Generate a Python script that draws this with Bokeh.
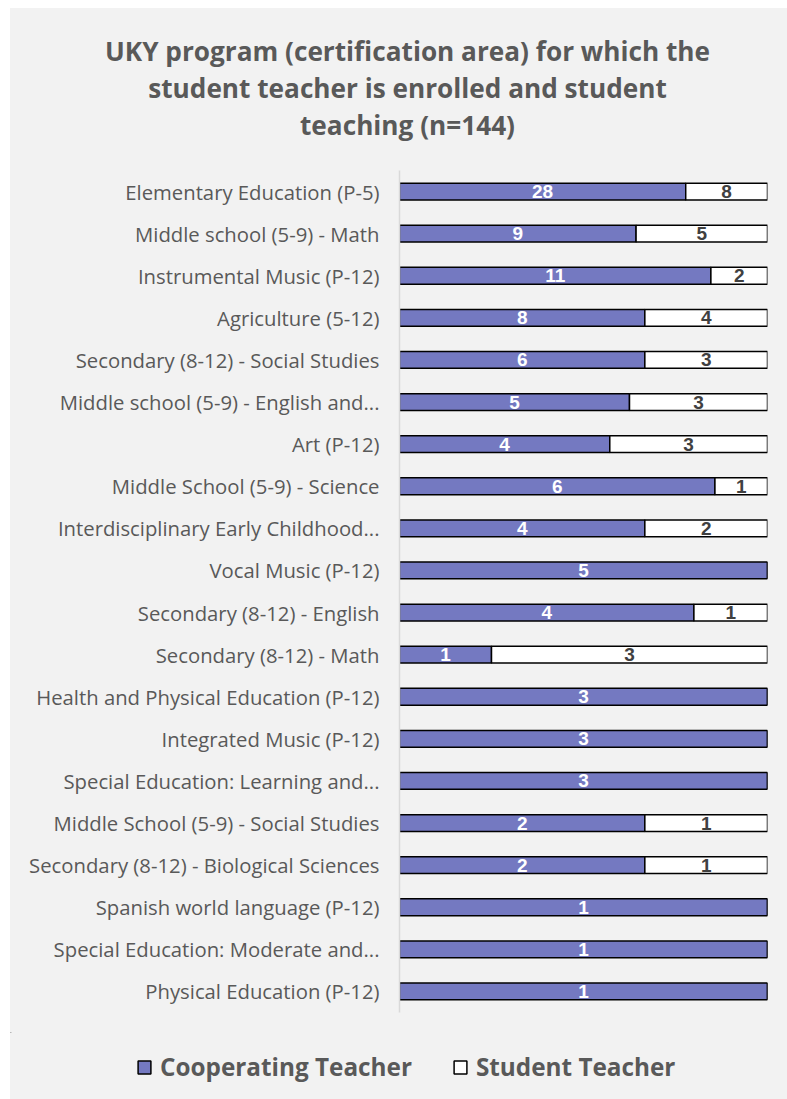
from bokeh.plotting import figure
from bokeh.models import ColumnDataSource, FactorRange, Range1d, Legend, LegendItem
from bokeh.layouts import column, row
from bokeh.core.properties import value
from bokeh.embed import file_html
from bokeh.resources import INLINE

categories = [
    "Elementary Education (P-5)",
    "Middle school (5-9) - Math",
    "Instrumental Music (P-12)",
    "Agriculture (5-12)",
    "Secondary (8-12) - Social Studies",
    "Middle school (5-9) - English and...",
    "Art (P-12)",
    "Middle School (5-9) - Science",
    "Interdisciplinary Early Childhood...",
    "Vocal Music (P-12)",
    "Secondary (8-12) - English",
    "Secondary (8-12) - Math",
    "Health and Physical Education (P-12)",
    "Integrated Music (P-12)",
    "Special Education: Learning and...",
    "Middle School (5-9) - Social Studies",
    "Secondary (8-12) - Biological Sciences",
    "Spanish world language (P-12)",
    "Special Education: Moderate and...",
    "Physical Education (P-12)",
]
cooperating = [28, 9, 11, 8, 6, 5, 4, 6, 4, 5, 4, 1, 3, 3, 3, 2, 2, 1, 1, 1]
student = [8, 5, 2, 4, 3, 3, 3, 1, 2, 0, 1, 3, 0, 0, 0, 1, 1, 0, 0, 0]
series_names = ["Cooperating Teacher", "Student Teacher"]
title_lines = [
    "UKY program (certification area) for which the",
    "student teacher is enrolled and student",
    "teaching (n=144)",
]

COOP_COLOR = "#7479c1"
STU_COLOR = "#ffffff"
TEXT_GRAY = "#595959"
CARD = "#f2f2f2"
W = 777
BG = {"background-color": CARD}

# ---------- title figure ----------
tf = figure(width=W, height=162, x_range=Range1d(0, W), y_range=Range1d(0, 162),
            output_backend="svg", toolbar_location=None,
            min_border=0, background_fill_color=CARD, border_fill_color=CARD,
            outline_line_color=None)
tf.axis.visible = False
tf.grid.visible = False
tf.text(x=[397] * 3, y=[120, 83, 46], text=title_lines,
        text_align="center", text_baseline="middle",
        text_font=value("Open Sans"), text_font_style="bold",
        text_font_size="26.2px", text_color=TEXT_GRAY)

# ---------- main figure ----------
tot = [c + s for c, s in zip(cooperating, student)]
coop_frac = [c / t for c, t in zip(cooperating, tot)]
stu_frac = [s / t for s, t in zip(student, tot)]
src = ColumnDataSource(dict(cat=categories, coop=coop_frac, stu=stu_frac))

p = figure(
    width=W, height=862,
    y_range=FactorRange(*list(reversed(categories))),
    x_range=Range1d(0, 1),
    output_backend="svg", toolbar_location=None,
    min_border_left=389, min_border_right=20,
    min_border_top=0, min_border_bottom=20,
    background_fill_color=CARD, border_fill_color=CARD,
    outline_line_color=None,
)
p.y_range.range_padding = 0

p.hbar_stack(
    ["coop", "stu"], y="cat", height=0.4, source=src,
    fill_color=[COOP_COLOR, STU_COLOR], line_color="black", line_width=1.5,
)

lab_c = dict(x=[], y=[], t=[])
lab_s = dict(x=[], y=[], t=[])
for cat, c, s, cf, sf in zip(categories, cooperating, student, coop_frac, stu_frac):
    if c > 0:
        lab_c["x"].append(cf / 2); lab_c["y"].append(cat); lab_c["t"].append(str(c))
    if s > 0:
        lab_s["x"].append(cf + sf / 2); lab_s["y"].append(cat); lab_s["t"].append(str(s))

p.text(x="x", y="y", text="t", source=ColumnDataSource(lab_c),
       text_align="center", text_baseline="middle",
       text_font=value("Liberation Sans"), text_font_style="bold",
       text_font_size="19px", text_color="white")
p.text(x="x", y="y", text="t", source=ColumnDataSource(lab_s),
       text_align="center", text_baseline="middle",
       text_font=value("Liberation Sans"), text_font_style="bold",
       text_font_size="19px", text_color="#404040")

p.xaxis.visible = False
p.xgrid.visible = False
p.ygrid.visible = False
p.yaxis.axis_line_color = "#d9d9d9"
p.yaxis.axis_line_width = 1.5
p.yaxis.major_tick_line_color = None
p.yaxis.minor_tick_line_color = None
p.yaxis.major_label_standoff = 14
p.yaxis.major_label_text_font = "Open Sans"
p.yaxis.major_label_text_font_size = "20.3px"
p.yaxis.major_label_text_color = TEXT_GRAY

# ---------- legend figure ----------
lf = figure(width=W, height=67, x_range=Range1d(0, 1), y_range=Range1d(0, 1),
            output_backend="svg", toolbar_location=None,
            min_border=0, background_fill_color=CARD, border_fill_color=CARD,
            outline_line_color=None)
lf.axis.visible = False
lf.grid.visible = False
# legend proxies: zero-size bars placed outside the visible range
proxy = ColumnDataSource(dict(y=[5], left=[0], right=[0]))
r1 = lf.hbar(y="y", left="left", right="right", height=0.4, source=proxy,
             fill_color=COOP_COLOR, line_color="black", line_width=1.5)
r2 = lf.hbar(y="y", left="left", right="right", height=0.4, source=proxy,
             fill_color=STU_COLOR, line_color="black", line_width=1.5)
legend = Legend(
    items=[LegendItem(label=series_names[0], renderers=[r1]),
           LegendItem(label=series_names[1], renderers=[r2])],
    location=(126, 16), orientation="horizontal",
    glyph_width=16, glyph_height=16, label_standoff=8, spacing=40,
    padding=0, margin=0, border_line_color=None, background_fill_alpha=0,
    label_text_font="Open Sans", label_text_font_style="bold",
    label_text_font_size="24.3px", label_text_color=TEXT_GRAY,
    label_height=28,
)
lf.add_layout(legend, "center")

layout = column(row(tf, styles=BG), p, row(lf, styles=BG), spacing=0,
                margin=(8, 0, 0, 10), styles=BG)

open("out.html", "w").write(file_html(layout, INLINE))
